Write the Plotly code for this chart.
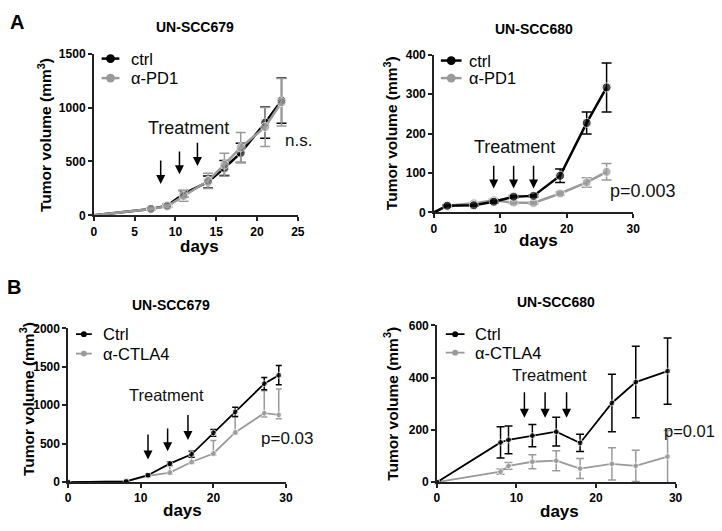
import plotly.graph_objects as go

W, H = 722, 531

# ---------------- data ----------------
a1_days = [0, 7, 9, 11, 14, 16, 18, 21, 23]
a1_ctrl = [0, 60, 90, 200, 310, 440, 580, 860, 1065]
a1_ctrl_err = [0, 8, 12, 30, 55, 70, 90, 145, 210]
a1_pd1 = [0, 60, 85, 180, 320, 470, 630, 820, 1050]
a1_pd1_err = [0, 8, 12, 50, 70, 107, 140, 180, 220]
a1_arrow_x = [8.2, 10.5, 12.7]
a1_arrow_tip = [292, 382, 457]
a1_arrow_tail = [523, 607, 688]

a2_days = [0, 2, 6, 9, 12, 15, 19, 23, 26]
a2_ctrl = [0, 17, 18, 27, 40, 42, 93, 227, 317]
a2_ctrl_err = [0, 2, 2, 3, 3, 3, 17, 28, 62]
a2_pd1 = [0, 17, 23, 31, 25, 24, 48, 76, 103]
a2_pd1_err = [0, 2, 2, 3, 3, 3, 4, 12, 21]
a2_arrow_x = [9, 12, 15]
a2_arrow_tip = [61, 61, 61]
a2_arrow_tail = [122, 122, 122]

b1_days = [0, 8, 11, 14, 17, 20, 23, 27, 29]
b1_ctrl = [0, 10, 90, 240, 362, 640, 912, 1280, 1390]
b1_ctrl_err = [0, 5, 15, 25, 40, 45, 60, 80, 125]
b1_ctla4 = [0, 10, 80, 125, 262, 372, 646, 897, 875]
b1_ctla4_err_up = [0, 5, 15, 100, 60, 170, 200, 290, 335]
b1_ctla4_err_dn = [0, 5, 15, 20, 20, 20, 20, 50, 50]
b1_arrow_x = [11.0, 13.7, 16.5]
b1_arrow_tip = [295, 400, 547]
b1_arrow_tail = [640, 716, 893]

b2_days = [0, 8, 9, 12, 15, 18, 22, 25, 29]
b2_ctrl = [0, 152, 162, 178, 193, 150, 303, 383, 425]
b2_ctrl_err = [0, 60, 53, 43, 55, 33, 110, 137, 127]
b2_ctla4 = [0, 40, 62, 78, 82, 52, 70, 62, 98]
b2_ctla4_err = [0, 10, 13, 27, 38, 38, 62, 60, 100]
b2_arrow_x = [11.0, 13.6, 16.3]
b2_arrow_tip = [246, 246, 246]
b2_arrow_tail = [350, 350, 350]

titles = ["UN-SCC679", "UN-SCC680", "UN-SCC679", "UN-SCC680"]
legend_a = ["ctrl", "α-PD1"]
legend_b = ["Ctrl", "α-CTLA4"]
pvals = ["n.s.", "p=0.003", "p=0.03", "p=0.01"]

# ---------------- styling ----------------
FONT = "Liberation Sans, Arial, sans-serif"
BLACK = "#000000"
GRAY = "#9a9a9a"
AXC = "#222222"


def px(x, y):
    return x / W, 1 - y / H


fig = go.Figure()

panels = [
    ("", (92, 299, 48, 214), [0, 25], [0, 1500], 5, 500),
    ("2", (437, 639, 49, 211), [0, 30], [0, 400], 10, 100),
    ("3", (66, 287, 330, 488), [0, 30], [0, 2000], 10, 500),
    ("4", (440, 682, 327, 488), [0, 30], [0, 600], 10, 200),
]

layout = dict(
    width=W, height=H, margin=dict(l=0, r=0, t=0, b=0),
    paper_bgcolor="white", plot_bgcolor="white", showlegend=False,
    font=dict(family=FONT, color=BLACK),
)
for suf, (x0, x1, yt, yb), xr, yr, dx, dy in panels:
    common = dict(
        showgrid=False, zeroline=False, showline=True,
        linecolor=AXC, linewidth=1.5, ticks="outside", ticklen=4,
        tickwidth=1.5, tickcolor=AXC, tick0=0,
        tickfont=dict(family=FONT, size=12, color=BLACK, weight="bold"),
    )
    layout["xaxis" + suf] = dict(domain=[x0 / W, x1 / W], range=xr, dtick=dx,
                                 anchor="y" + suf, **common)
    layout["yaxis" + suf] = dict(domain=[1 - yb / H, 1 - yt / H], range=yr, dtick=dy,
                                 anchor="x" + suf, **common)
fig.update_layout(**layout)


def add_series(xs, ys, err, color, xa, ya, lw, ms, hide_zero, err_minus=None, cw=5):
    sizes = [0 if (hide_zero and x == 0) else ms for x in xs]
    ey = dict(type="data", array=err, visible=True, color=color,
              thickness=1.5, width=cw)
    if err_minus is not None:
        ey["symmetric"] = False
        ey["arrayminus"] = err_minus
    fig.add_trace(go.Scatter(
        x=xs, y=ys, mode="lines+markers", xaxis=xa, yaxis=ya,
        line=dict(color=color, width=lw),
        marker=dict(color=color, size=sizes),
        error_y=ey, cliponaxis=False,
    ))


add_series(a1_days, a1_ctrl, a1_ctrl_err, BLACK, "x", "y", 2.5, 9, True)
add_series(a1_days, a1_pd1, a1_pd1_err, GRAY, "x", "y", 2.5, 9, True)
add_series(a2_days, a2_pd1, a2_pd1_err, GRAY, "x2", "y2", 2.5, 9, True)
add_series(a2_days, a2_ctrl, a2_ctrl_err, BLACK, "x2", "y2", 2.5, 9, True)
add_series(b1_days, b1_ctla4, b1_ctla4_err_up, GRAY, "x3", "y3", 1.8, 6, False,
           err_minus=b1_ctla4_err_dn, cw=3)
add_series(b1_days, b1_ctrl, b1_ctrl_err, BLACK, "x3", "y3", 1.8, 6, False, cw=3)
add_series(b2_days, b2_ctla4, b2_ctla4_err, GRAY, "x4", "y4", 1.8, 6, False, cw=4)
add_series(b2_days, b2_ctrl, b2_ctrl_err, BLACK, "x4", "y4", 1.8, 6, False, cw=4)

ann = []
shapes = []


def note(text, x, y, size, bold=False, xanchor="center", angle=0, color=BLACK):
    X, Y = px(x, y)
    f = dict(size=size, family=FONT, color=color)
    if bold:
        f["weight"] = "bold"
    ann.append(dict(text=text, x=X, y=Y, xref="paper", yref="paper", showarrow=False,
                    xanchor=xanchor, yanchor="middle", textangle=angle, font=f))


# Panel letters
note("A", 14, 15, 20, bold=True)
note("B", 11, 288, 20, bold=True)

# Titles
for t, (x, y) in zip(titles, [(195, 21), (538, 23), (170, 306), (561, 303)]):
    note(t, x, y, 14, bold=True)

# Y titles
for (x, y) in [(42, 131), (393, 130), (25, 403), (394, 408)]:
    note("Tumor volume (mm<sup>3</sup>)", x, y, 15.5, bold=True, angle=-90)

# X titles
for (x, y) in [(199, 246), (543, 240), (182, 517), (564, 518)]:
    note("days", x, y, 17, bold=True)

# Legends (drawn manually)
legend_specs = [
    (legend_a, (100, 118, 128), (53, 73), 9, 2.5),
    (legend_a, (444, 465, 471), (55, 73), 9, 2.5),
    (legend_b, (74, 90, 99), (336, 356), 6, 1.8),
    (legend_b, (449, 468, 477), (336, 355), 6, 1.8),
]
for labels, (lx0, lx1, tx), rows, ms, lw in legend_specs:
    for lab, ry, col in zip(labels, rows, [BLACK, GRAY]):
        X0, Y = px(lx0, ry)
        X1, _ = px(lx1, ry)
        shapes.append(dict(type="line", xref="paper", yref="paper", x0=X0, x1=X1,
                           y0=Y, y1=Y, line=dict(color=col, width=lw)))
        cx = (lx0 + lx1) / 2
        r = ms / 2
        a0, b0 = px(cx - r, ry - r)
        a1, b1 = px(cx + r, ry + r)
        shapes.append(dict(type="circle", xref="paper", yref="paper", x0=a0, x1=a1,
                           y0=b1, y1=b0, fillcolor=col, line=dict(color=col, width=0)))
        note(lab, tx, ry, 16.5, xanchor="left")

# Treatment arrows
arrow_sets = [
    ("x", "y", a1_arrow_x, a1_arrow_tip, a1_arrow_tail),
    ("x2", "y2", a2_arrow_x, a2_arrow_tip, a2_arrow_tail),
    ("x3", "y3", b1_arrow_x, b1_arrow_tip, b1_arrow_tail),
    ("x4", "y4", b2_arrow_x, b2_arrow_tip, b2_arrow_tail),
]
for xa, ya, xs, tips, tails in arrow_sets:
    for x, tip, tail in zip(xs, tips, tails):
        ann.append(dict(x=x, y=tip, ax=x, ay=tail, xref=xa, yref=ya,
                        axref=xa, ayref=ya, showarrow=True, arrowhead=2,
                        arrowsize=1.2, arrowwidth=1.5, arrowcolor=BLACK, text=""))

# Treatment text
for xa, ya, x, y, fs in [("x", "y", 11.65, 811, 18), ("x2", "y2", 12.2, 166, 18),
                         ("x3", "y3", 13.5, 1137, 16.5), ("x4", "y4", 14.2, 409, 16.5)]:
    ann.append(dict(text="Treatment", x=x, y=y, xref=xa, yref=ya, showarrow=False,
                    xanchor="center", yanchor="middle",
                    font=dict(size=fs, family=FONT, color="#111111")))

# p-values
for t, (x, y), fs in zip(pvals, [(284, 137), (613, 189), (260, 443), (668, 435)],
                         [17, 18, 17, 16.5]):
    note(t, x, y, fs, xanchor="left", color="#111111")

fig.update_layout(annotations=ann, shapes=shapes)
fig.write_html("out.html", config={"displayModeBar": False},
               post_script="document.body.style.margin='0';document.body.style.overflow='hidden';")
